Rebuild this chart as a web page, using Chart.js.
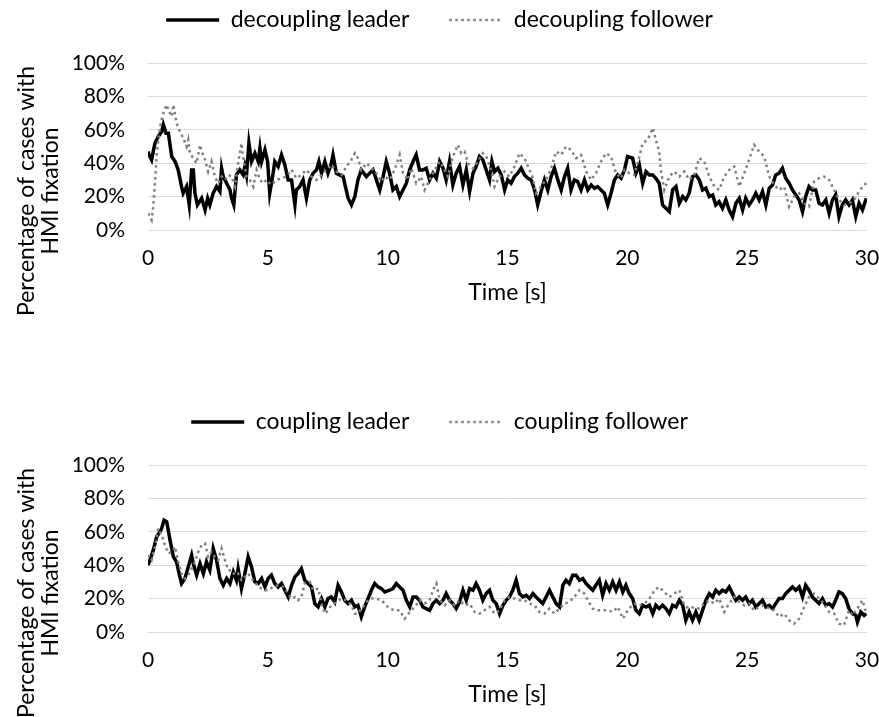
<!DOCTYPE html>
<html>
<head>
<meta charset="utf-8">
<script src="https://cdn.jsdelivr.net/npm/chart.js@4.4.1/dist/chart.umd.min.js"></script>
<style>
  body { margin: 0; background: #fff; overflow: hidden; }
  .panel { position: absolute; left: 0; width: 879px; height: 330px; }
  #top { top: 0; }
  #bottom { top: 402px; }
</style>
</head>
<body>
<div class="panel" id="top"><canvas id="chartTop"></canvas></div>
<div class="panel" id="bottom"><canvas id="chartBottom"></canvas></div>
<script>
// tick labels
const timeTicks = [0, 5, 10, 15, 20, 25, 30];
const pctTicks = [0, 20, 40, 60, 80, 100];
const yTitleLines = ['Percentage of cases with', 'HMI fixation'];
const xTitle = 'Time [s]';

// top panel: decoupling
const decLeaderTime = [0,0.08,0.15,0.29,0.43,0.57,0.64,0.75,0.85,0.99,1.13,1.26,1.40,1.47,1.61,1.72,1.82,1.89,1.96,2.06,
  2.24,2.38,2.49,2.58,2.72,2.86,3.00,3.07,3.14,3.28,3.42,3.49,3.58,3.69,3.83,3.97,4.04,4.11,4.21,4.32,
  4.46,4.60,4.67,4.74,4.88,4.99,5.08,5.22,5.29,5.43,5.57,5.71,5.85,5.99,6.13,6.19,6.33,6.47,6.61,6.75,
  6.89,7.03,7.13,7.24,7.38,7.51,7.65,7.72,7.86,8.14,8.35,8.49,8.63,8.76,8.90,9.11,9.39,9.67,9.81,9.94,
  10.08,10.22,10.36,10.50,10.64,10.78,10.92,11.06,11.19,11.33,11.47,11.61,11.75,11.89,12.03,12.17,12.31,12.44,12.58,12.72,
  12.86,13.00,13.14,13.28,13.42,13.56,13.69,13.83,13.97,14.11,14.25,14.35,14.46,14.60,14.74,14.88,15.01,15.15,15.29,15.43,
  15.57,15.71,15.85,15.99,16.13,16.26,16.40,16.54,16.68,16.82,16.96,17.10,17.24,17.38,17.51,17.65,17.79,17.93,18.07,18.21,
  18.35,18.49,18.63,18.76,18.90,19.04,19.18,19.32,19.46,19.60,19.74,19.88,20.01,
  20.22,20.36,20.50,20.64,20.78,20.92,21.06,21.19,21.33,21.47,21.61,21.75,21.89,22.03,22.17,22.31,22.44,22.58,22.72,22.86,
  23.00,23.14,23.28,23.42,23.56,23.69,23.83,23.97,24.11,24.25,24.39,24.53,24.67,24.81,24.94,25.08,25.22,25.36,25.50,25.64,
  25.78,25.92,26.06,26.19,26.33,26.47,26.61,26.75,26.89,27.03,27.17,27.31,27.44,27.58,27.72,27.86,28.00,28.14,28.28,28.42,
  28.56,28.69,28.83,28.97,29.11,29.25,29.39,29.53,29.67,29.81,29.97];
const decLeaderPct = [47,44,42,52,56,59,63,58,58,44,41,36,26,22,26,15,36,36,22,15,
  19,12,19,15,22,26,23,37,32,28,24,19,15,33,36,33,38,33,52,41,
  46,41,49,41,48,41,22,34,41,38,45,39,30,30,15,24,26,30,19,30,
  34,36,41,34,41,34,40,45,34,32,19,15,20,30,36,32,36,24,32,41,
  34,24,26,20,24,28,36,41,45,36,36,37,30,34,31,41,37,30,41,27,
  34,38,27,36,23,34,38,44,42,36,30,41,35,37,33,24,30,28,32,34,
  37,33,31,30,24,15,23,30,24,32,37,30,24,32,37,24,30,29,24,30,
  24,27,25,26,24,22,15,22,30,33,31,36,44,
  43,34,39,28,35,33,33,31,28,15,13,11,24,26,16,20,18,22,32,33,
  30,24,25,20,21,15,17,13,18,12,8,16,19,12,19,15,18,22,18,23,
  15,25,27,33,34,37,31,28,24,21,18,11,20,26,24,24,16,15,18,10,
  18,21,8,15,18,15,18,8,16,12,19];

const decFollowerTime = [0.01,0.15,0.22,0.29,0.36,0.43,0.53,0.64,0.78,0.85,0.99,1.06,1.13,1.19,1.33,1.47,1.61,1.68,1.75,1.89,
  2.03,2.17,2.24,2.38,2.51,2.65,2.79,2.93,3.07,3.21,3.35,3.49,3.63,3.76,3.90,3.97,4.11,4.25,4.39,4.53,
  4.67,4.81,4.94,5.15,5.36,5.57,5.78,5.99,6.19,6.40,6.61,6.82,7.03,7.24,7.44,7.65,7.86,8.07,8.28,8.49,
  8.63,8.76,8.90,9.11,9.32,9.53,9.74,
  9.88,10.08,10.29,10.50,10.64,10.85,10.99,11.19,11.40,11.54,11.75,11.96,12.17,12.38,12.51,12.72,12.93,13.07,13.21,13.35,
  13.56,13.76,13.97,14.11,14.32,14.46,14.67,14.88,15.08,15.29,15.50,15.71,15.92,16.06,16.19,16.40,16.61,16.82,17.03,17.24,
  17.44,17.65,17.86,18.07,18.28,18.49,18.69,18.90,19.11,19.32,19.53,19.74,
  19.88,20.08,20.29,20.50,20.64,20.85,21.06,21.19,21.33,21.40,21.54,21.75,21.96,22.17,22.38,22.58,22.79,23.00,23.21,23.42,
  23.63,23.83,24.04,24.25,24.46,24.67,24.88,25.08,25.29,25.50,25.71,25.92,26.13,26.33,26.54,26.75,26.96,27.17,27.38,27.58,
  27.79,28.00,28.21,28.42,28.63,28.83,29.04,29.25,29.46,29.67,29.88,29.97];
const decFollowerPct = [10,6,14,28,44,54,64,70,75,72,68,75,69,64,59,55,50,54,46,43,
  40,51,47,42,35,41,32,28,32,30,33,32,26,40,52,44,32,30,26,36,
  30,28,30,27,30,31,32,36,31,33,36,32,30,33,36,39,35,33,38,42,
  46,43,36,40,37,34,29,
  32,30,36,45,34,30,37,28,32,24,30,36,41,36,32,44,51,46,47,40,
  37,41,46,44,36,26,32,35,32,38,46,43,36,31,22,26,30,37,47,45,
  50,48,43,45,35,30,34,41,46,44,34,31,
  36,34,33,44,52,54,61,54,47,36,24,32,35,32,35,30,33,43,41,32,
  26,24,32,36,38,26,34,42,51,47,44,32,27,24,26,14,20,22,16,14,
  29,31,32,30,24,18,15,16,18,23,27,28];

// bottom panel: coupling
const coupLeaderTime = [0,0.08,0.22,0.36,0.50,0.57,0.67,0.78,0.92,1.06,1.19,1.33,1.40,1.54,1.68,1.82,1.89,2.03,2.17,2.31,
  2.44,2.58,2.72,2.86,3.00,3.14,3.28,3.42,3.56,3.69,3.76,3.90,4.04,4.18,4.32,4.46,4.60,4.74,4.88,5.01,
  5.15,5.29,5.43,5.57,5.71,5.85,5.99,6.13,6.26,6.40,6.54,6.68,6.82,6.96,7.10,7.24,7.38,7.51,7.65,7.79,
  7.93,8.07,8.21,8.35,8.49,8.63,8.76,8.90,9.04,9.18,9.32,9.46,9.60,9.74,9.88,
  10.08,10.22,10.36,10.50,10.64,10.78,10.92,11.06,11.19,11.33,11.47,11.61,11.75,11.89,12.03,12.17,12.31,12.44,12.58,12.72,
  12.86,13.00,13.14,13.28,13.42,13.56,13.69,13.83,13.97,14.11,14.25,14.39,14.53,14.67,14.81,14.94,15.08,15.22,15.36,15.50,
  15.64,15.78,15.92,16.06,16.19,16.33,16.47,16.61,16.75,16.89,17.03,17.17,17.31,17.44,17.58,17.72,17.86,18.00,18.14,18.28,
  18.42,18.56,18.69,18.83,18.97,19.11,19.25,19.39,19.53,19.67,19.81,19.94,
  20.08,20.22,20.36,20.50,20.64,20.78,20.92,21.06,21.19,21.33,21.47,21.61,21.75,21.89,22.03,22.17,22.31,22.44,22.58,22.72,
  22.86,23.00,23.14,23.28,23.42,23.56,23.69,23.83,23.97,24.11,24.25,24.39,24.53,24.67,24.81,24.94,25.08,25.22,25.36,25.50,
  25.64,25.78,25.92,26.06,26.19,26.33,26.47,26.61,26.75,26.89,27.03,27.17,27.31,27.44,27.58,27.72,27.86,28.00,28.14,28.28,
  28.42,28.56,28.69,28.83,28.97,29.11,29.25,29.39,29.53,29.60,29.74,29.88,29.97];
const coupLeaderPct = [40,43,49,57,60,62,67,66,55,45,42,33,29,32,39,46,41,34,41,35,
  42,37,50,43,32,28,32,29,36,31,38,26,35,45,39,30,29,32,27,32,
  34,29,27,29,25,21,28,33,35,38,31,29,27,17,15,20,15,20,21,18,
  28,24,19,17,19,15,16,9,15,20,25,29,27,26,24,
  25,26,29,27,25,19,15,21,21,19,15,14,13,17,19,17,19,23,19,17,
  14,18,25,19,26,25,29,25,19,23,25,19,17,11,16,19,21,25,31,23,
  21,22,20,23,21,19,17,21,25,21,17,15,28,31,29,34,34,31,32,29,
  27,25,28,31,22,29,25,30,25,30,24,28,
  23,20,13,11,16,15,16,11,16,14,16,14,11,16,15,19,16,7,12,7,
  12,7,13,19,23,21,25,23,25,24,27,23,19,21,19,21,17,19,15,17,
  19,15,16,14,17,20,20,23,25,27,25,27,21,28,25,21,19,17,20,16,
  17,15,19,24,23,20,14,11,10,6,12,10,11];

const coupFollowerTime = [0,0.15,0.29,0.43,0.57,0.71,0.85,0.99,1.13,1.26,1.40,1.54,1.68,1.82,1.96,2.10,2.24,2.38,2.51,2.65,
  2.79,2.93,3.07,3.21,3.35,3.49,3.63,3.76,3.90,4.04,4.18,4.32,4.46,4.60,4.74,4.88,5.01,5.22,5.43,5.64,
  5.85,5.99,6.13,6.26,6.40,6.54,6.75,6.89,7.10,7.24,7.38,7.51,7.65,7.86,8.07,8.28,8.49,8.63,8.76,8.90,
  9.04,9.18,9.32,9.53,9.74,
  9.88,10.08,10.29,10.50,10.71,10.92,11.13,11.33,11.54,11.75,11.89,12.03,12.17,12.38,12.58,12.79,13.00,13.21,13.42,13.63,
  13.83,14.04,14.25,14.46,14.67,14.88,15.08,15.29,15.50,15.71,15.92,16.13,16.33,16.54,16.75,16.96,17.17,17.38,17.58,17.79,
  18.00,18.21,18.35,18.56,18.76,18.97,19.18,19.39,19.60,19.81,20.06,
  20.29,20.50,20.71,20.92,21.13,21.33,21.54,21.75,21.96,22.17,22.38,22.58,22.79,23.00,23.21,23.42,23.63,23.83,24.04,24.25,
  24.46,24.67,24.88,25.08,25.29,25.50,25.71,25.92,26.13,26.33,26.54,26.75,26.96,27.17,27.38,27.58,27.79,28.00,28.21,28.42,
  28.63,28.83,29.04,29.25,29.39,29.60,29.81,29.97];
const coupFollowerPct = [46,43,51,62,58,52,47,48,51,42,35,32,34,38,42,48,52,53,45,48,
  45,43,50,43,37,37,34,35,31,33,35,32,30,27,26,25,25,27,28,27,
  23,20,21,19,21,29,30,25,26,17,11,13,16,18,20,19,16,11,11,14,
  16,19,20,20,19,
  17,14,13,13,8,12,15,19,17,19,25,29,19,16,19,16,19,16,17,12,
  11,13,15,11,13,19,21,20,19,19,17,16,12,11,14,11,14,17,18,21,
  25,23,19,14,13,13,13,12,15,8,14,
  17,16,17,20,25,27,24,21,23,25,16,14,15,14,17,19,17,20,12,17,
  21,18,16,17,13,15,16,14,13,9,11,7,5,8,15,21,23,20,17,12,
  11,5,4,13,10,14,19,11];

const fontFamily = 'Lato';
const labelSize = 23;   // legend and axis titles
const tickSize = 21;    // tick labels
const textColor = '#000000';

function toPoints(times, values) {
  return times.map((t, i) => ({ x: t, y: values[i] }));
}

// extra space between legend and plot area
const legendGap = {
  id: 'legendGap',
  beforeInit(chart) {
    const fit = chart.legend.fit;
    chart.legend.fit = function () {
      fit.call(this);
      this.height += 21.5;
    };
  }
};

// two-line rotated y axis title
const yTitle = {
  id: 'yTitle',
  afterDraw(chart, args, opts) {
    const ctx = chart.ctx;
    ctx.save();
    ctx.font = labelSize + 'px ' + fontFamily;
    ctx.fillStyle = textColor;
    ctx.textAlign = 'center';
    ctx.textBaseline = 'middle';
    opts.lines.forEach((line, i) => {
      ctx.save();
      ctx.translate(opts.x + i * opts.gap, opts.y);
      ctx.rotate(-Math.PI / 2);
      ctx.fillText(line, 0, 0);
      ctx.restore();
    });
    ctx.restore();
  }
};

// legend samples use the dataset line style (dash and width)
function lineLegendLabels(chart) {
  const items = Chart.defaults.plugins.legend.labels.generateLabels(chart);
  items.forEach(item => {
    const ds = chart.data.datasets[item.datasetIndex];
    item.lineDash = ds.borderDash || [];
    item.lineWidth = ds.borderWidth;
    item.strokeStyle = ds.borderColor;
    item.pointStyle = 'line';
  });
  return items.sort((a, b) => a.datasetIndex - b.datasetIndex);
}

function makeChart(id, leaderLabel, leaderT, leaderV, followerLabel, followerT, followerV) {
  return new Chart(document.getElementById(id), {
    type: 'line',
    data: {
      datasets: [
        {
          label: leaderLabel,
          data: toPoints(leaderT, leaderV),
          borderColor: '#000000',
          borderWidth: 3.5,
          pointRadius: 0,
          order: 2
        },
        {
          label: followerLabel,
          data: toPoints(followerT, followerV),
          borderColor: '#7f7f7f',
          borderWidth: 2.5,
          borderDash: [2.5, 3.5],
          pointRadius: 0,
          order: 1
        }
      ]
    },
    options: {
      responsive: true,
      maintainAspectRatio: false,
      animation: false,
      layout: { padding: { top: -31.5, left: 0, right: 0, bottom: 0 } },
      plugins: {
        legend: {
          position: 'top',
          labels: {
            usePointStyle: true,
            pointStyle: 'line',
            pointStyleWidth: 53,
            padding: 40,
            color: textColor,
            font: { family: fontFamily, size: labelSize },
            generateLabels: lineLegendLabels
          }
        },
        tooltip: { enabled: false },
        yTitle: { lines: yTitleLines, x: 27, y: 191, gap: 24 }
      },
      scales: {
        x: {
          type: 'linear',
          min: 0,
          max: 30,
          afterBuildTicks: (scale) => { scale.ticks = timeTicks.map(v => ({ value: v })); },
          afterFit: (scale) => {
            scale.height = 100;
            scale.paddingRight = 12;
          },
          grid: { display: false },
          border: { display: false },
          ticks: {
            color: textColor,
            padding: 8,
            maxRotation: 0,
            font: { family: fontFamily, size: tickSize }
          },
          title: {
            display: true,
            text: xTitle,
            color: textColor,
            padding: { top: 0, bottom: 24 },
            font: { family: fontFamily, size: labelSize }
          }
        },
        y: {
          min: 0,
          max: 100,
          afterBuildTicks: (scale) => { scale.ticks = pctTicks.map(v => ({ value: v })); },
          afterFit: (scale) => { scale.width = 148; },
          grid: { color: '#d9d9d9', lineWidth: 1, drawTicks: false },
          border: { display: false },
          ticks: {
            color: textColor,
            padding: 23,
            font: { family: fontFamily, size: tickSize },
            callback: (v) => v + '%'
          }
        }
      }
    },
    plugins: [legendGap, yTitle]
  });
}

makeChart('chartTop', 'decoupling leader', decLeaderTime, decLeaderPct,
  'decoupling follower', decFollowerTime, decFollowerPct);
makeChart('chartBottom', 'coupling leader', coupLeaderTime, coupLeaderPct,
  'coupling follower', coupFollowerTime, coupFollowerPct);
</script>
</body>
</html>
